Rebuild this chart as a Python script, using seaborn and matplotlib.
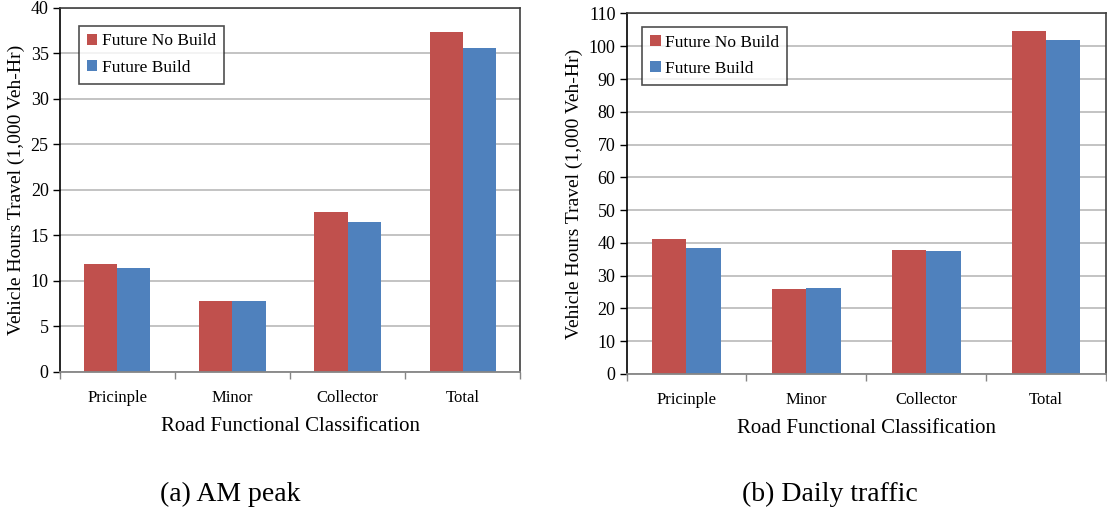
import matplotlib
matplotlib.use("Agg")
import matplotlib.pyplot as plt
from matplotlib.ticker import FixedLocator, NullFormatter
import pandas as pd
import seaborn as sns

categories = ["Pricinple", "Minor", "Collector", "Total"]
series_names = ["Future No Build", "Future Build"]
am_no_build = [11.9, 7.8, 17.6, 37.3]
am_build = [11.4, 7.8, 16.5, 35.6]
daily_no_build = [41.1, 25.8, 37.7, 104.6]
daily_build = [38.3, 26.1, 37.4, 101.9]
am_ticks = [0, 5, 10, 15, 20, 25, 30, 35, 40]
daily_ticks = [0, 10, 20, 30, 40, 50, 60, 70, 80, 90, 100, 110]
captions = ["(a) AM peak", "(b) Daily traffic"]
x_title = "Road Functional Classification"
y_title = "Vehicle Hours Travel (1,000 Veh-Hr)"
colors = ["#C0504D", "#4F81BD"]

sns.set_theme(style="white")
plt.rcParams["font.family"] = ["Liberation Serif", "DejaVu Serif"]
plt.rcParams["text.color"] = "black"
plt.rcParams["axes.labelcolor"] = "black"
plt.rcParams["xtick.color"] = "black"
plt.rcParams["ytick.color"] = "black"


def long_frame(no_build, build):
    return pd.DataFrame({
        "category": categories * 2,
        "series": [series_names[0]] * 4 + [series_names[1]] * 4,
        "value": list(no_build) + list(build),
    })


fig = plt.figure(figsize=(11.07, 5.18), dpi=100)
ax_left = fig.add_axes([0.054, 0.282, 0.416, 0.703])
ax_right = fig.add_axes([0.566, 0.278, 0.433, 0.696])

panels = [
    (ax_left, long_frame(am_no_build, am_build), am_ticks, (0.042, 0.951)),
    (ax_right, long_frame(daily_no_build, daily_build), daily_ticks, (0.033, 0.963)),
]

for ax, df, ticks, leg_anchor in panels:
    sns.barplot(data=df, x="category", y="value", hue="series", order=categories,
                hue_order=series_names, palette=colors, width=0.575, saturation=1,
                edgecolor="none", ax=ax, legend=True)
    ax.set_ylim(ticks[0], ticks[-1])
    ax.set_xlim(-0.5, 3.5)
    ax.yaxis.set_major_locator(FixedLocator(ticks))
    ax.yaxis.grid(True, color="#BEBEBE", linewidth=1.3)
    ax.set_axisbelow(True)
    ax.tick_params(axis="y", which="major", direction="out", length=5, width=1,
                   color="black", labelcolor="black", labelsize=13, pad=3, left=True)
    ax.tick_params(axis="x", which="major", length=0, labelsize=12, labelcolor="black", pad=13)
    ax.xaxis.set_minor_locator(FixedLocator([-0.5, 0.5, 1.5, 2.5, 3.5]))
    ax.xaxis.set_minor_formatter(NullFormatter())
    ax.tick_params(axis="x", which="minor", direction="out", length=5, width=1,
                   color="#868686", bottom=True)
    for side in ["top", "right"]:
        ax.spines[side].set_color("#404040")
        ax.spines[side].set_linewidth(1.2)
    ax.spines["left"].set_color("black")
    ax.spines["left"].set_linewidth(1.2)
    ax.spines["bottom"].set_color("#868686")
    ax.spines["bottom"].set_linewidth(1.3)
    ax.set_xlabel(x_title, fontsize=15, labelpad=8, color="black")
    ax.set_ylabel(y_title, fontsize=14, labelpad=4, color="black")
    handles, labels = ax.get_legend_handles_labels()
    leg = ax.legend(handles, labels, loc="upper left", bbox_to_anchor=leg_anchor,
                    fontsize=12.5, frameon=True, fancybox=False, handlelength=0.6,
                    handleheight=0.6, handletextpad=0.25, labelspacing=0.6,
                    borderpad=0.45, borderaxespad=0, labelcolor="black")
    leg.get_frame().set_edgecolor("#222222")
    leg.get_frame().set_linewidth(1.2)

fig.text(0.208, 0.045, captions[0], fontsize=20, ha="center", va="center", color="black")
fig.text(0.75, 0.045, captions[1], fontsize=20, ha="center", va="center", color="black")

fig.savefig("out.png", dpi=100, facecolor="white")
